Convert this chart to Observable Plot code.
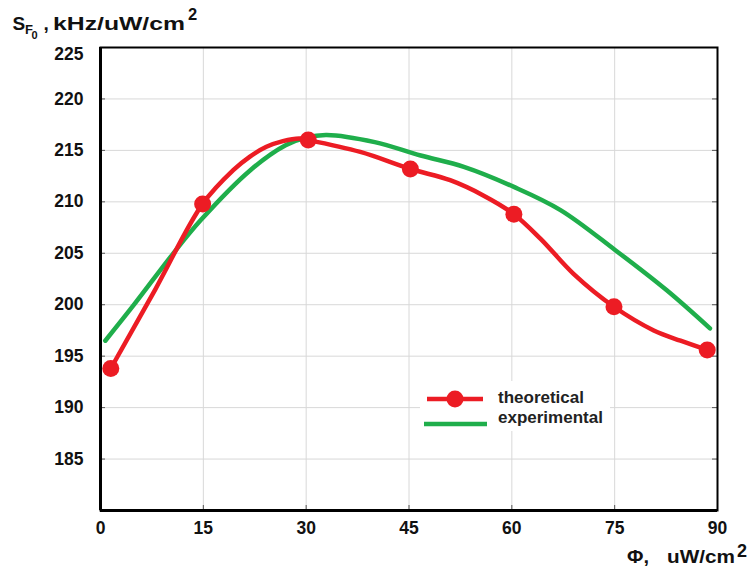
<!DOCTYPE html>
<html>
<head>
<meta charset="utf-8">
<script src="https://cdn.jsdelivr.net/npm/d3@7"></script>
<script src="https://cdn.jsdelivr.net/npm/@observablehq/plot@0.6"></script>
<style>
  html, body { margin: 0; padding: 0; background: #fff; }
  #wrap { position: relative; width: 754px; height: 568px; }
</style>
</head>
<body>
<div id="wrap"></div>
<script>
// Theoretical (red) – marker positions
const theoX = [1.5, 14.9, 30.3, 45.2, 60.3, 74.9, 88.5];
const theoY = [193.8, 209.8, 216.0, 213.2, 208.8, 199.8, 195.6];
// Theoretical (red) – curve
const theoLineX = [1.5, 8, 14.9, 19.4, 21.8, 24.2, 26.6, 29, 30.3, 37.9, 45.2, 51, 55.9, 60.3, 64.2, 69, 74.9, 80.7, 84.6, 88.5];
const theoLineY = [193.8, 201.5, 209.8, 213.1, 214.4, 215.35, 215.9, 216.15, 216.0, 214.85, 213.2, 212.1, 210.6, 208.8, 206.4, 203.0, 199.8, 197.5, 196.5, 195.6];
// Experimental (green, smooth curve)
const expX = [0.7, 5, 10.4, 14.6, 21.9, 27, 30, 33, 40, 46.7, 53, 60.3, 67.1, 75.1, 82.6, 88.9];
const expY = [196.5, 200.1, 204.8, 208.2, 213.1, 215.5, 216.25, 216.5, 215.8, 214.5, 213.4, 211.45, 209.2, 205.3, 201.4, 197.7];
// Ticks
const xTicks = [0, 15, 30, 45, 60, 75, 90];
const yTicks = [185, 190, 195, 200, 205, 210, 215, 220, 225];
const seriesNames = ["theoretical", "experimental"];
const colors = ["#ec1c24", "#1fae4b"];

const theoData = theoX.map((x, i) => ({x, y: theoY[i]}));
const theoLine = theoLineX.map((x, i) => ({x, y: theoLineY[i]}));
const expData = expX.map((x, i) => ({x, y: expY[i]}));

const FONT = "'Liberation Sans', Arial, sans-serif";

const chart = Plot.plot({
  width: 754,
  height: 568,
  marginLeft: 100,
  marginRight: 37,
  marginTop: 47,
  marginBottom: 58,
  style: {fontFamily: FONT, fontSize: "17.5px", fontWeight: "bold", color: "#111", background: "#fff"},
  x: {domain: [0, 90]},
  y: {domain: [180, 225]},
  marks: [
    Plot.gridX(xTicks.slice(1, -1), {stroke: "#d8d8d8", strokeOpacity: 1}),
    Plot.gridY(yTicks.slice(0, -1), {stroke: "#d8d8d8", strokeOpacity: 1}),
    Plot.tickY(yTicks.slice(0, -1), {y: d => d, insetRight: 612, stroke: "#555"}),
    Plot.tickY(yTicks.slice(0, -1), {y: d => d, insetLeft: 612, stroke: "#555"}),
    Plot.tickX(xTicks.slice(1, -1), {x: d => d, insetTop: 458, stroke: "#555"}),
    Plot.axisY(yTicks.slice(0, -1), {tickSize: 0, tickPadding: 17, label: null}),
    Plot.axisY(yTicks.slice(-1), {tickSize: 0, tickPadding: 17, dy: 7, label: null}),
    Plot.axisX(xTicks, {tickSize: 0, tickPadding: 11, label: null}),
    Plot.line(expData, {x: "x", y: "y", curve: "catmull-rom", stroke: colors[1], strokeWidth: 4.5, strokeLinecap: "round"}),
    Plot.line(theoLine, {x: "x", y: "y", curve: "catmull-rom", stroke: colors[0], strokeWidth: 4.5}),
    Plot.dot(theoData, {x: "x", y: "y", r: 8.5, fill: colors[0]}),
    Plot.frame({stroke: "#000", strokeWidth: 2}),
    Plot.ruleX([0], {stroke: "#000", strokeWidth: 3}),
    Plot.ruleY([180], {stroke: "#000", strokeWidth: 3})
  ]
});

document.getElementById("wrap").appendChild(chart);

// Annotations: axis titles and legend
const svg = d3.select(chart);
const g = svg.append("g")
  .attr("font-family", FONT).attr("font-weight", "bold").attr("fill", "#111")
  .attr("text-anchor", "start");

function t(x, y, size, str, len) {
  const e = g.append("text").attr("x", x).attr("y", y).attr("font-size", size)
    .attr("text-anchor", "start").text(str);
  if (len) e.attr("textLength", len).attr("lengthAdjust", "spacingAndGlyphs");
  return e;
}
// Y title: S_{F_0}, kHz/uW/cm^2
t(12.5, 30, 19, "S");
t(25, 33.5, 13, "F");
t(31.5, 38.5, 11, "0");
t(43.5, 30, 19, ",");
t(53, 30, 18.5, "kHz/uW/cm", 132);
t(188, 20, 16.5, "2");
// X title: Φ, uW/cm^2
t(627, 563, 19, "Φ,", 22);
t(667, 563, 18, "uW/cm", 68);
t(737, 557, 18, "2");

// Legend
const lg = svg.append("g");
lg.append("rect").attr("x", 420).attr("y", 381).attr("width", 190).attr("height", 50).attr("fill", "#fff");
lg.append("line").attr("x1", 427).attr("x2", 483).attr("y1", 399).attr("y2", 399)
  .attr("stroke", colors[0]).attr("stroke-width", 4.5);
lg.append("circle").attr("cx", 455).attr("cy", 399).attr("r", 8.5).attr("fill", colors[0]);
lg.append("line").attr("x1", 424).attr("x2", 487).attr("y1", 424).attr("y2", 424)
  .attr("stroke", colors[1]).attr("stroke-width", 4.5);
lg.append("text").attr("x", 498).attr("y", 403).attr("font-family", FONT).attr("font-weight", "bold")
  .attr("text-anchor", "start").attr("font-size", 17).attr("fill", "#222").text(seriesNames[0]);
lg.append("text").attr("x", 498).attr("y", 423).attr("font-family", FONT).attr("font-weight", "bold")
  .attr("text-anchor", "start").attr("font-size", 17).attr("fill", "#222").text(seriesNames[1]);
</script>
</body>
</html>
